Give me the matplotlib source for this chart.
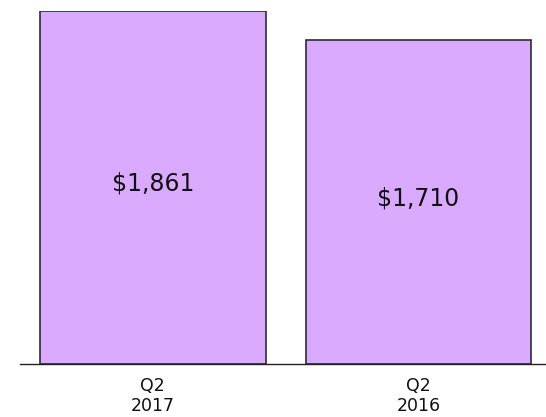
import matplotlib
matplotlib.use("Agg")
import matplotlib.pyplot as plt

# Data
categories = ["Q2\n2017", "Q2\n2016"]
values = [1861, 1710]
value_labels = ["$1,861", "$1,710"]

bar_color = "#D9AAFF"
edge_color = "#2E2A33"

fig = plt.figure(figsize=(5.46, 4.17), dpi=100)
ax = fig.add_axes([0.0366, 0.127, 0.9634, 0.8466])

x = list(range(len(categories)))
bars = ax.bar(x, values, width=0.85, color=bar_color, edgecolor=edge_color, linewidth=1.2)

# value labels, sitting a touch above the middle of each bar
for xi, v, lab in zip(x, values, value_labels):
    ax.text(xi, v / 2 + 20, lab, ha="center", va="center", fontsize=17, color="#111111")

ax.set_xlim(-0.5, 1.48)
ax.set_ylim(0, 1861)
ax.set_xticks(x)
ax.set_xticklabels(categories, fontsize=12.5, color="#111111", linespacing=1.15)
ax.tick_params(axis="x", length=0, pad=9)
ax.set_yticks([])
for side in ["top", "right", "left"]:
    ax.spines[side].set_visible(False)
ax.spines["bottom"].set_color("#222222")
ax.spines["bottom"].set_linewidth(1.0)

fig.savefig("out.png", dpi=100)
